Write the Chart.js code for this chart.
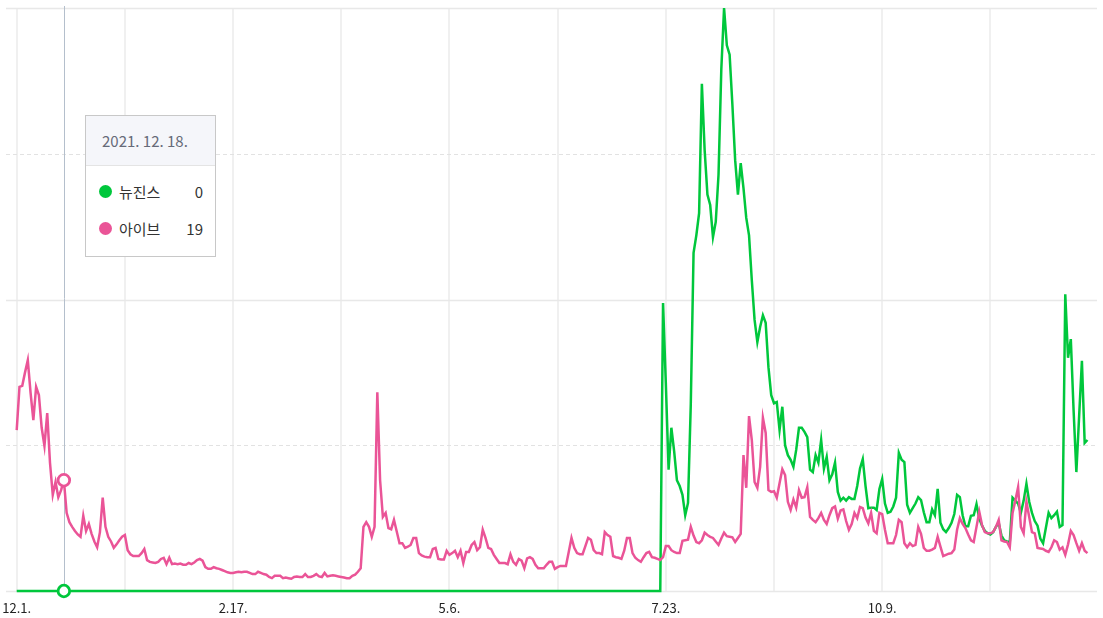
<!DOCTYPE html>
<html><head><meta charset="utf-8">
<script src="https://cdn.jsdelivr.net/npm/chart.js@4.4.1/dist/chart.umd.min.js"></script>
<style>
html,body{margin:0;padding:0;background:#fff;}
#wrap{position:relative;width:1103px;height:618px;overflow:hidden;}
canvas{display:block;}
#tip{position:absolute;left:85px;top:115px;width:131px;height:142px;border:1px solid #c8c8c8;background:#fff;box-sizing:border-box;font-family:"Noto Sans CJK KR","Noto Sans",sans-serif;color:#333;}
#tip .hd{height:50px;line-height:50px;background:#f5f6fa;border-bottom:1px solid #e4e4e4;padding-left:16px;font-size:15px;color:#666a78;box-sizing:border-box;}
#tip .rows{padding-top:7px;}
#tip .row{position:relative;height:37px;line-height:37px;font-size:15px;}
#tip .dot{position:absolute;left:13px;top:12px;width:13px;height:13px;border-radius:50%;}
#tip .nm{position:absolute;left:33px;}
#tip .val{position:absolute;right:12px;}
</style>
</head><body>
<div id="wrap"><canvas id="c" width="1103" height="618"></canvas><div id="tip"></div></div>
<script>
// ---- data ----
const seriesNames = ['뉴진스', '아이브'];
const seriesColors = ['#00c73c', '#ea5497'];
const newjeans = [
0,0,0,0,0,0,0,0,0,0,0,0,0,0,0,0,0,0,0,0,
0,0,0,0,0,0,0,0,0,0,0,0,0,0,0,0,0,0,0,0,
0,0,0,0,0,0,0,0,0,0,0,0,0,0,0,0,0,0,0,0,
0,0,0,0,0,0,0,0,0,0,0,0,0,0,0,0,0,0,0,0,
0,0,0,0,0,0,0,0,0,0,0,0,0,0,0,0,0,0,0,0,
0,0,0,0,0,0,0,0,0,0,0,0,0,0,0,0,0,0,0,0,
0,0,0,0,0,0,0,0,0,0,0,0,0,0,0,0,0,0,0,0,
0,0,0,0,0,0,0,0,0,0,0,0,0,0,0,0,0,0,0,0,
0,0,0,0,0,0,0,0,0,0,0,0,0,0,0,0,0,0,0,0,
0,0,0,0,0,0,0,0,0,0,0,0,0,0,0,0,0,0,0,0,
0,0,0,0,0,0,0,0,0,0,0,0,0,0,0,0,0,0,0,0,
0,0,0,0,0,0,0,0,0,0,0,0,0,
49.4,35.7,20.8,28,24,19,18,
16.5,13,15.1,32,58,61,64.8,87,75.6,68,
66.2,60.7,63.3,71.4,89.4,100,93.6,92,83.4,73.9,
68,73.4,69.1,64,61,53.3,46.5,42.7,45.3,47.3,
46,38.4,33.6,32.2,32.4,27.6,31.6,25,23.3,22.5,
21.3,24.2,28,28,27.3,26.4,20.8,20.4,23.3,22,
25.9,21,23,19,20,22,17,15.5,16,15.5,
16.1,15.8,15.8,18,21,22.6,18,14.2,14.3,14.3,
13.9,17.5,19.2,15,13.4,13.6,14.5,16,23.7,22.5,
22.1,14.8,13.4,14.2,15,16.1,15.6,13.5,11.8,11.8,
14,13,17.5,11.7,10.6,10.1,10.8,11.7,13.2,16.5,
16.1,13,11.1,11.1,12.9,13,14.9,12.4,11.2,10.3,
9.9,9.7,10.1,11,11.7,9.5,8.7,8.5,8.4,16,
15.5,15,13.4,15.5,18.4,15.3,13.4,12,11.2,9,
8.2,10.8,13.4,12.5,13,13.6,11,11.3,50.9,40,
43.2,31,20.4,30,39.5,25.4,25.9
];
const ive = [
27.6,35,35.2,37.5,39.6,34,29.3,35,33.6,28,
24.9,30.5,22,16.5,18.7,16.1,17.3,19,13.4,11.8,
11,10.3,9.7,9.3,12.9,10.3,11.5,9.8,8.5,7.5,
10.1,16,11,9.3,8.5,7.4,8,8.7,9.3,9.6,
7,6.3,6,6,6,6.5,7.2,5.3,5,4.9,
4.8,5,5.5,5.7,4.6,5.7,4.6,4.7,4.6,4.7,
4.5,4.5,4.8,4.6,4.9,5.3,5.5,5.2,4.1,3.8,
3.8,4.1,3.9,3.8,3.6,3.4,3.2,3.1,3.1,3.2,
3.3,3.2,3.3,3.3,3.1,2.9,2.9,3.3,3.1,2.9,
2.8,2.4,2.2,2.6,2.6,2.6,2.2,2.3,2.2,2.1,
2.4,2.5,2.4,2.4,2.9,2.4,2.4,2.6,2.9,2.5,
2.4,3.1,2.5,2.6,2.7,2.6,2.5,2.4,2.3,2.2,
2.2,2.6,2.8,3.3,3.9,11,11.8,11,9.3,11,
34.1,19,12.7,13.4,10.8,10.6,12.2,10.2,8.2,8.2,
7.4,7.6,7.9,9.1,9.1,6.5,6.1,5.9,5.8,5.8,
7.2,7.4,5.5,5.4,5.4,6.9,6.2,6.5,6.9,5.8,
6.9,4.8,6.7,6.7,7.9,8.4,7,7.5,10.5,9.1,
7.4,7.2,6.2,5.5,4.8,4.8,4.8,4.6,6.3,5,
4.5,5.5,5.2,3.9,5.6,5.8,5.5,4.5,3.9,3.9,
3.9,4.5,5,5,3.8,4.1,4.3,4.3,4.3,6.7,
9.1,7.4,6.5,6.3,6.3,7.7,9.1,8.8,7,6.5,
6.5,6.3,10.1,9.6,9.3,6,5.8,5.7,5.5,6.9,
9.1,9.1,6.5,5.7,5.3,5,5.8,6.5,6.7,5.8,
5.7,5.5,5.3,5.8,7.7,7.7,7,6.7,6.5,6.5,
8.6,8.7,8.8,11,9.5,8.4,8.2,8.7,10,9.6,
9.3,9.1,8.5,7.9,9,10,9.4,9.3,9.2,8.4,
9.1,9.8,23.3,17.7,30,25.9,18.7,17.7,21.3,29.7,
27.1,17.3,17,17.1,16,18.5,20.9,19.9,15.3,13.9,
15.7,14.3,17.3,16,16.1,17.8,12.7,12.2,11.8,12.5,
13.4,12.2,11.5,13,14.2,14.5,12.4,13.8,14,12,
10.5,11.5,13.4,12.5,14.4,14.2,12.6,11.6,13.4,10.3,
9.9,13.4,13.2,10.5,8.2,8.2,8.2,9.6,12.2,11.8,
8.2,7.5,8.2,7.7,7.9,11,9.8,7.4,6.9,6.9,
7.1,7.4,9.3,7.6,6,6.2,6.4,6.5,7.1,10.5,
12.5,11.5,10.8,9.7,8.7,8.4,11,13.6,11.3,10.1,
9.9,9.9,10.1,11,12.2,8.7,8.5,8.4,7.5,13.4,
15.5,17.8,11,9.9,15.3,12.7,10.1,9.9,7.4,7.3,
7.2,6.9,6.7,7.5,8.7,8.4,7.1,7.5,6.2,8,
10.3,9.6,8.2,6.9,8.2,6.9,6.5
];
const gridDays = [0,39,78,117,156,195,234,273,312,351];
const tickDays = [0,78,156,234,312];
const tickLabels = ['12.1.','2.17.','5.6.','7.23.','10.9.'];
const yGridValues = [0,25,50,75,100];
const hoverIndex = 17;
const hoverLabel = '2021. 12. 18.';

// ---- tooltip (html) ----
const tip = document.getElementById('tip');
const seriesData = [newjeans, ive];
let html = '<div class="hd">' + hoverLabel + '</div><div class="rows">';
seriesNames.forEach((n,k)=>{
  html += '<div class="row"><span class="dot" style="background:'+seriesColors[k]+'"></span><span class="nm">'+n+'</span><span class="val">'+seriesData[k][hoverIndex]+'</span></div>';
});
html += '</div>';
tip.innerHTML = html;

const toXY = arr => arr.map((v,i)=>({x:i,y:v}));

const overlay = {
  id:'overlay',
  beforeDatasetsDraw(chart){
    const {ctx, chartArea:a, scales:{x,y}} = chart;
    ctx.save();
    yGridValues.forEach(v=>{
      const py = Math.round(y.getPixelForValue(v)) + 0.5;
      const minor = (v % 50) !== 0;
      ctx.beginPath();
      ctx.setLineDash(minor ? [4,3] : []);
      ctx.strokeStyle = minor ? '#e2e2e2' : '#e8e8e8';
      ctx.lineWidth = minor ? 1 : 1.5;
      ctx.moveTo(a.left, py); ctx.lineTo(a.right, py); ctx.stroke();
    });
    ctx.setLineDash([]);
    const px = Math.round(x.getPixelForValue(hoverIndex)) + 0.5;
    ctx.strokeStyle = '#b4bfcc'; ctx.lineWidth = 1;
    ctx.beginPath(); ctx.moveTo(px, a.top - 2); ctx.lineTo(px, a.bottom); ctx.stroke();
    ctx.restore();
  },
  afterDatasetsDraw(chart){
    const {ctx, scales:{x,y}} = chart;
    ctx.save();
    seriesData.forEach((arr,k)=>{
      const px = x.getPixelForValue(hoverIndex), py = y.getPixelForValue(arr[hoverIndex]);
      ctx.beginPath(); ctx.arc(px, py, 5.8, 0, Math.PI*2);
      ctx.fillStyle = '#fff'; ctx.fill();
      ctx.lineWidth = 2.8; ctx.strokeStyle = seriesColors[k]; ctx.stroke();
    });
    ctx.restore();
  }
};

new Chart(document.getElementById('c'), {
  type:'line',
  data:{ datasets:[
    {label:seriesNames[0], data:toXY(newjeans), borderColor:seriesColors[0], borderWidth:2.5, pointRadius:0, tension:0, order:2, clip:false},
    {label:seriesNames[1], data:toXY(ive), borderColor:seriesColors[1], borderWidth:2.5, pointRadius:0, tension:0, order:1, clip:false}
  ]},
  options:{
    responsive:false, animation:false, devicePixelRatio:1,
    layout:{padding:{left:6,right:6,top:8,bottom:0}},
    plugins:{legend:{display:false}, tooltip:{enabled:false}},
    events:[],
    scales:{
      x:{ type:'linear', min:-3.86, max:389.44,
        afterBuildTicks: s => { s.ticks = gridDays.map(v=>({value:v})); },
        afterFit: s => { s.height = 27; s.paddingLeft = 0; s.paddingRight = 0; },
        ticks:{ autoSkip:false, maxRotation:0, padding:9, color:'#222',
          font:{family:'"Noto Sans CJK KR","Noto Sans",sans-serif', size:13},
          callback: v => { const k = tickDays.indexOf(v); return k >= 0 ? tickLabels[k] : ''; } },
        grid:{ color:'#f0f0f0', lineWidth:2, drawTicks:false },
        border:{ display:false }
      },
      y:{ min:0, max:100, display:false }
    }
  },
  plugins:[overlay]
});
</script>
</body></html>
